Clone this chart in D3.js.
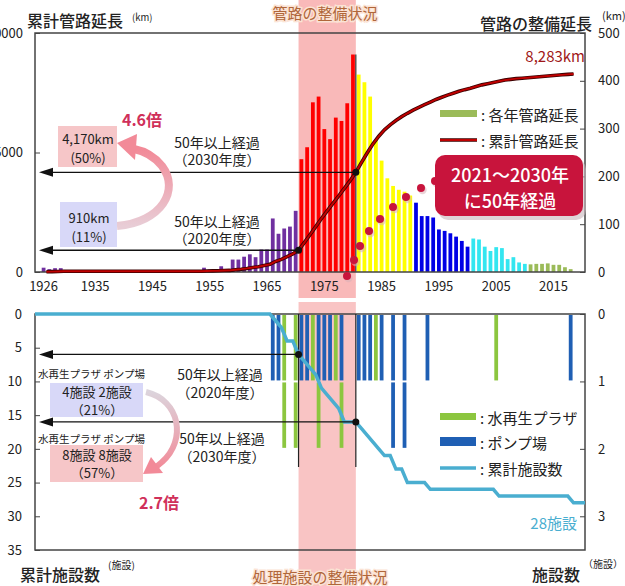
<!DOCTYPE html>
<html><head><meta charset="utf-8">
<script src="https://cdn.jsdelivr.net/npm/d3@7"></script>
<style>body{margin:0;background:#fff;overflow:hidden} text{font-family:"Noto Sans CJK JP","Noto Sans",sans-serif}</style>
</head><body><svg id="c" width="625" height="586"></svg>
<script>
// ---------- DATA ----------
const categoryYears = d3.range(1925, 2021);
const pipeYears = d3.range(1926, 2019);
const annualKm = [9,6,8,8,
 0,0,0,0,0,0,0,0,0,0,0,0,0,0,0,0,0,0,0,0,0,0,0,0,
 9,5,5,12,0,
 26,26,32,37,31,47,47,
 112,80,91,95,128,
 236,261,355,367,299,278,323,316,353,455,
 413,397,367,276,233,196,180,172,168,160,
 145,117,117,114,89,86,81,74,65,53,
 70,68,53,44,52,50,27,31,20,17,
 16,17,17,18,15,15,10,6];
const cumulativeKm = [10,16,24,32,
 32,32,32,32,32,32,32,32,32,32,32,32,32,32,32,32,32,32,32,32,32,32,32,32,
 40,46,52,64,66,
 92,118,150,190,220,270,320,
 440,530,640,760,910,
 1230,1560,1900,2240,2560,2870,3180,3500,3820,4170,
 4590,4990,5360,5680,5950,6160,6340,6500,6640,6770,
 6890,7000,7110,7220,7310,7400,7480,7560,7630,7690,
 7760,7830,7880,7930,7980,8030,8060,8090,8110,8130,
 8150,8170,8190,8210,8230,8250,8268,8283];
const periodStart = [1926,1971,1981,1991,2001,2011];
const periodColor = ["#7030a0","#ff0000","#ffff00","#0000e6","#33e6f0","#9bbb59"];
const yearTicks = [1926,1935,1945,1955,1965,1975,1985,1995,2005,2015];
const leftTicksTop = [0,5000,10000];
const rightTicksTop = [0,100,200,300,400,500];

const facYears  = [1966,1967,1968,1970,1971,1972,1973,1974,1975,1976,1977,1978,1981,1982,1983,1984,1985,1987,1989,1993,2005,2018];
const pumpAdds  = [1,1,0,0,1,1,0,1,1,1,0,1,1,1,1,0,1,2,2,1,0,1];
const plazaAdds = [0,0,2,2,0,0,1,1,0,0,1,1,0,0,0,1,0,0,0,0,1,0];
const facLineYears  = [1924,1965,1966,1967,1968,1969,1970,1971,1972,1973,1974,1975,1976,1977,1978,1980,1981,1982,1983,1984,1985,1986,1987,1988,1989,1992,1993,2004,2005,2017,2018,2020];
const facLineValues = [0,0,1,2,4,4,6,7,8,9,11,12,13,14,16,16,17,18,19,20,21,21,23,23,25,25,26,26,27,27,28,28];
const leftTicksBot = [0,5,10,15,20,25,30,35];
const rightTicksBot = [0,1,2,3];

// ---------- SCALES ----------
const svg = d3.select("#c");
const L = 35, R = 585;
const x = d3.scaleBand().domain(categoryYears).range([L, R]);
const step = x.step(), bw = step * 0.66;
const xc = y => x(y) + step / 2;
const xe = y => (y < categoryYears[0] ? x(categoryYears[0]) : x(y) + step);
const topT = 33, topB = 272, botT = 314, botB = 550;
const yKm = d3.scaleLinear().domain([0, 10000]).range([topB, topT]);
const yAnn = d3.scaleLinear().domain([0, 500]).range([topB, topT]);
const yFac = d3.scaleLinear().domain([0, 35]).range([botT, botB]);
const yCnt = d3.scaleLinear().domain([0, 3.5]).range([botT, botB]);
const colorOf = yr => periodColor[d3.bisectRight(periodStart, yr) - 1];

svg.append("rect").attr("x", x(1971)).attr("y", 0).attr("width", x(1981) - x(1971)).attr("height", 298).attr("fill", "#f9b9b9");
svg.append("rect").attr("x", x(1971)).attr("y", 302).attr("width", x(1981) - x(1971)).attr("height", 284).attr("fill", "#f9c4c4");

function txt(xp, yp, s, size, opt = {}){
  const t = svg.append("text").attr("x", xp).attr("y", yp).attr("font-size", size).attr("dominant-baseline", "central")
    .attr("text-anchor", opt.anchor || "start").attr("fill", opt.fill || "#222").attr("font-weight", opt.weight || 400).text(s);
  if (opt.stroke) t.attr("stroke", opt.stroke).attr("stroke-width", opt.sw || 3).attr("paint-order", "stroke");
  return t;
}
// two-line label as one text element
function txt2(xp, yp, lines, size, gap, opt = {}){
  const t = svg.append("text").attr("x", xp).attr("y", yp).attr("font-size", size).attr("dominant-baseline", "central")
    .attr("text-anchor", opt.anchor || "middle").attr("fill", opt.fill || "#222");
  lines.forEach((s, i) => t.append("tspan").attr("x", xp).attr("dy", i ? gap : 0).text(s));
  return t;
}
function styleAxis(size){ return g => { g.select(".domain").remove(); g.selectAll("text").attr("font-size", size).attr("fill", "#222"); g.selectAll("line").attr("stroke", "#444"); }; }
function hArrow(y, x2){
  svg.append("line").attr("x1", L + 12).attr("x2", x2).attr("y1", y).attr("y2", y).attr("stroke", "#111").attr("stroke-width", 1.3);
  svg.append("path").attr("d", `M${L+4},${y} L${L+18},${y-4.5} L${L+18},${y+4.5} Z`).attr("fill", "#111");
  svg.append("circle").attr("cx", x2).attr("cy", y).attr("r", 3.5).attr("fill", "#111");
}

// ---------- TOP CHART ----------
svg.append("g").selectAll("rect").data(pipeYears).join("rect")
  .attr("x", d => xc(d) - bw / 2).attr("width", bw)
  .attr("y", (d, i) => yAnn(annualKm[i])).attr("height", (d, i) => topB - yAnn(annualKm[i]))
  .attr("fill", d => colorOf(d));
svg.append("line").attr("x1", xe(1980)).attr("x2", xe(1980)).attr("y1", yAnn(455)).attr("y2", topB).attr("stroke", "#333").attr("stroke-width", 1.2);

svg.append("rect").attr("x", L).attr("y", topT).attr("width", R - L).attr("height", topB - topT).attr("fill", "none").attr("stroke", "#444").attr("stroke-width", 1.5);
svg.append("g").attr("transform", `translate(${L},0)`)
  .call(d3.axisLeft(yKm).tickValues(leftTicksTop).tickSize(-5).tickPadding(12).tickFormat(d3.format("d"))).call(styleAxis(13));
svg.append("g").attr("transform", `translate(${R},0)`)
  .call(d3.axisRight(yAnn).tickValues(rightTicksTop).tickSize(-5).tickPadding(13).tickFormat(d3.format("d"))).call(styleAxis(13));
svg.append("g").attr("transform", `translate(0,${topB})`)
  .call(d3.axisBottom(x).tickValues(yearTicks).tickSize(0).tickPadding(10)).call(styleAxis(13));

const kmLine = d3.line().x(d => xe(d)).y((d, i) => yKm(cumulativeKm[i]));
svg.append("path").datum(pipeYears).attr("d", kmLine).attr("fill", "none").attr("stroke", "#3a0000").attr("stroke-width", 3.6);
svg.append("path").datum(pipeYears).attr("d", kmLine).attr("fill", "none").attr("stroke", "#c00000").attr("stroke-width", 1.9);

hArrow(yKm(cumulativeKm[pipeYears.indexOf(1980)]), xe(1980));
hArrow(yKm(cumulativeKm[pipeYears.indexOf(1970)]), xe(1970));

const dotPts = [[347,276],[354,260],[360,246],[369,231],[380,219],[393,207],[406,197],[421,188],[435,181]];
svg.selectAll("circle.rs").data(dotPts).join("circle").attr("cx", d => d[0] + 1.5).attr("cy", d => d[1] + 2).attr("r", 4.2).attr("fill", "#d8b0b8").attr("opacity", 0.55);
svg.selectAll("circle.rd").data(dotPts).join("circle").attr("cx", d => d[0]).attr("cy", d => d[1]).attr("r", 4).attr("fill", "#c8143c");

svg.append("rect").attr("x", 438).attr("y", 159).attr("width", 148).attr("height", 61).attr("rx", 10).attr("fill", "#c8b8bc").attr("opacity", 0.6);
svg.append("rect").attr("x", 435).attr("y", 155).attr("width", 148).attr("height", 61).attr("rx", 10).attr("fill", "#c8143c");
txt2(510, 174, ["2021～2030年", "に50年経過"], 18, 26, {fill: "#fff"}).attr("font-weight", 500);

txt(27, 20, "累計管路延長", 16, {weight: 500});
txt(132, 17, "(km)", 9.5);
txt(480, 23, "管路の整備延長", 16, {weight: 500});
txt(602, 15, "(km)", 11);
txt(325, 12, "管路の整備状況", 15, {anchor: "middle", fill: "#b0663a", stroke: "#fbe3d4", sw: 3});
txt(585, 55, "8,283km", 15, {anchor: "end", fill: "#a01818"});

svg.append("rect").attr("x", 440).attr("y", 110).attr("width", 37).attr("height", 7).attr("fill", "#9bbb59");
txt(481, 114, ": 各年管路延長", 15);
svg.append("line").attr("x1", 440).attr("x2", 477).attr("y1", 140).attr("y2", 140).attr("stroke", "#3a0000").attr("stroke-width", 3.6);
svg.append("line").attr("x1", 440).attr("x2", 477).attr("y1", 140).attr("y2", 140).attr("stroke", "#c00000").attr("stroke-width", 1.9);
txt(481, 140, ": 累計管路延長", 15);

const defs = svg.append("defs");
const g1 = defs.append("linearGradient").attr("id", "ga").attr("x1", 0).attr("y1", 0).attr("x2", 0).attr("y2", 1);
g1.append("stop").attr("offset", "0%").attr("stop-color", "#f28a98");
g1.append("stop").attr("offset", "100%").attr("stop-color", "#e8cdd6");
const g2 = defs.append("linearGradient").attr("id", "gb").attr("x1", 0).attr("y1", 0).attr("x2", 0).attr("y2", 1);
g2.append("stop").attr("offset", "0%").attr("stop-color", "#dcd4dc");
g2.append("stop").attr("offset", "100%").attr("stop-color", "#f28a98");

svg.append("path").attr("d", "M117,226 C162,222 180,190 162,166 C154,156 144,151 134,149").attr("fill", "none").attr("stroke", "url(#ga)").attr("stroke-width", 8);
svg.append("path").attr("d", "M117,143 L137,134 L135,160 Z").attr("fill", "#f28a98");
svg.append("rect").attr("x", 58).attr("y", 126).attr("width", 59).attr("height", 41).attr("fill", "#f6c6c8");
txt2(88, 138, ["4,170km", "(50%)"], 13, 19);
svg.append("rect").attr("x", 60).attr("y", 202).attr("width", 57).attr("height", 45).attr("fill", "#d8d8f8");
txt2(89, 217, ["910km", "(11%)"], 13, 19);
txt(142, 119, "4.6倍", 16, {anchor: "middle", fill: "#d0305a", weight: 700});
txt2(217, 142, ["50年以上経過", "（2030年度）"], 14, 17);
txt2(217, 221, ["50年以上経過", "（2020年度）"], 14, 17);

// ---------- BOTTOM CHART ----------
const segs = [];
facYears.forEach((yr, i) => {
  let k = 0;
  for (let j = 0; j < pumpAdds[i]; j++) segs.push({yr, k: k++, c: "#1f5fb4"});
  for (let j = 0; j < plazaAdds[i]; j++) segs.push({yr, k: k++, c: "#8cc63f"});
});
svg.selectAll("rect.seg").data(segs).join("rect")
  .attr("x", d => xc(d.yr) - bw / 2).attr("width", bw)
  .attr("y", d => yCnt(d.k) + 1).attr("height", d => yCnt(d.k + 1) - yCnt(d.k) - 2)
  .attr("fill", d => d.c);

svg.append("rect").attr("x", L).attr("y", botT).attr("width", R - L).attr("height", botB - botT).attr("fill", "none").attr("stroke", "#444").attr("stroke-width", 1.5);
svg.append("g").attr("transform", `translate(${L},0)`)
  .call(d3.axisLeft(yFac).tickValues(leftTicksBot).tickSize(-5).tickPadding(13).tickFormat(d3.format("d"))).call(styleAxis(13));
svg.append("g").attr("transform", `translate(${R},0)`)
  .call(d3.axisRight(yCnt).tickValues(rightTicksBot).tickSize(-5).tickPadding(13).tickFormat(d3.format("d"))).call(styleAxis(13));

[1970, 1980].forEach(yr => svg.append("line").attr("x1", xe(yr)).attr("x2", xe(yr)).attr("y1", botT).attr("y2", 467).attr("stroke", "#222").attr("stroke-width", 1.2));

const facLine = d3.line().x(d => xe(d)).y((d, i) => yFac(facLineValues[i]));
svg.append("path").datum(facLineYears).attr("d", facLine).attr("fill", "none").attr("stroke", "#4aaed0").attr("stroke-width", 3.5);

hArrow(yFac(facLineValues[facLineYears.indexOf(1980)]), xe(1980));
hArrow(yFac(facLineValues[facLineYears.indexOf(1970)]), xe(1970));

svg.append("rect").attr("x", 440).attr("y", 413).attr("width", 36).attr("height", 7).attr("fill", "#8cc63f");
txt(480, 417, ": 水再生プラザ", 15);
svg.append("rect").attr("x", 440).attr("y", 437).attr("width", 36).attr("height", 9).attr("fill", "#1f5fb4");
txt(480, 442, ": ポンプ場", 15);
svg.append("line").attr("x1", 440).attr("x2", 476).attr("y1", 468).attr("y2", 468).attr("stroke", "#4aaed0").attr("stroke-width", 3.5);
txt(480, 468, ": 累計施設数", 15);
txt(577, 522, "28施設", 15, {anchor: "end", fill: "#4aaed0"});

svg.append("path").attr("d", "M146,392 C180,400 187,440 162,462 C158,466 154,468 152,469").attr("fill", "none").attr("stroke", "url(#gb)").attr("stroke-width", 6);
svg.append("path").attr("d", "M143,474 L151,457 L163,473 Z").attr("fill", "#f28a98");
svg.append("rect").attr("x", 50).attr("y", 383).attr("width", 93).attr("height", 34).attr("fill", "#d8d8f8");
svg.append("rect").attr("x", 50).attr("y", 445).attr("width", 93).attr("height", 37).attr("fill", "#f6c6c8");
txt(38, 373, "水再生プラザ ポンプ場", 10.5);
txt2(97, 391, ["4施設  2施設", "（21%）"], 13, 18);
txt(38, 438, "水再生プラザ ポンプ場", 10.5);
txt2(97, 454, ["8施設  8施設", "（57%）"], 13, 18);
txt(159, 502, "2.7倍", 16, {anchor: "middle", fill: "#d0305a", weight: 700});
txt2(220, 374, ["50年以上経過", "（2020年度）"], 14, 18);
txt2(222, 438, ["50年以上経過", "（2030年度）"], 14, 18);

txt(20, 574, "累計施設数", 16, {weight: 500});
txt(108, 564, "(施設)", 10);
txt(532, 574, "施設数", 16, {weight: 500});
txt(583, 563, "（施設）", 10);
txt(320, 576, "処理施設の整備状況", 15, {anchor: "middle", fill: "#b0663a", stroke: "#fbe3d4", sw: 3});
</script></body></html>
